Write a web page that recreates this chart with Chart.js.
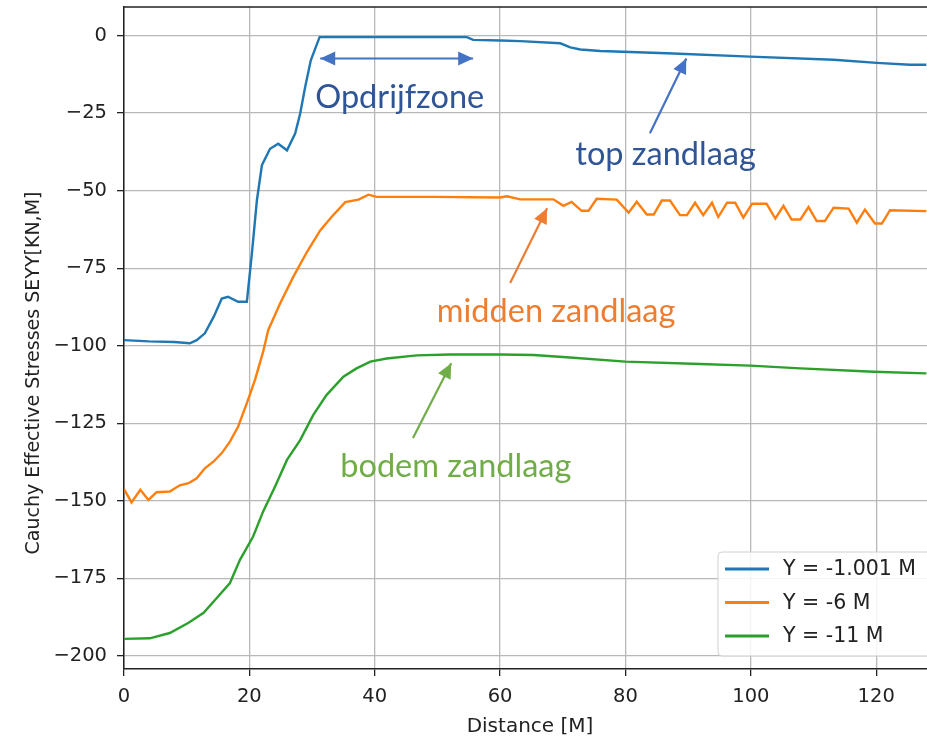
<!DOCTYPE html>
<html lang="nl">
<head>
    <meta charset="UTF-8">
    <title>Cauchy Effective Stresses SEYY</title>
    <script src="https://cdn.jsdelivr.net/npm/chart.js"></script>
    <style>
        html, body { margin: 0; padding: 0; background: #ffffff; }
        #stressChart { display: block; }
    </style>
</head>
<body>
    <canvas id="stressChart" width="927" height="738"></canvas>
<script>
    // distances [M] and SEYY values per layer
    const topX = [0, 4, 8, 10.5, 11.6, 12.9, 14.3, 15.6, 16.6, 18.2, 19.6, 20.4, 21.2, 22.0, 23.3, 24.6, 26.0, 27.3, 28.1, 28.9, 29.8, 31.2, 40, 50, 54.7, 55.7, 60, 63.2, 69.6, 71.2, 72.8, 76, 86.6, 99.9, 113.2, 120.1, 125.4, 128];
    const topY = [-98.2, -98.6, -98.8, -99.2, -98.2, -96, -90.7, -84.8, -84.2, -85.8, -85.8, -70.3, -53.1, -41.8, -36.5, -34.9, -37, -31.6, -25.2, -16.6, -8, -0.5, -0.5, -0.5, -0.5, -1.4, -1.6, -1.8, -2.5, -3.8, -4.5, -5.0, -5.7, -6.8, -7.8, -8.8, -9.4, -9.4];

    const midX = [0, 1.2, 2.6, 3.9, 5.2, 7.3, 8.9, 10.3, 11.6, 12.9, 14.3, 15.6, 16.9, 18.2, 19.6, 20.9, 22.2, 23.0, 24.9, 27.0, 29.2, 31.3, 33.1, 35.3, 37.4, 39.0, 40.3, 49.4, 60, 61.1, 63.2, 65.3, 68.5, 70.1, 71.4, 73.0, 74.1, 75.4, 78.6, 80.5, 81.8, 83.4, 84.5, 85.8, 87.1, 88.7, 89.8, 91.1, 92.4, 93.8, 94.8, 96.2, 97.5, 98.8, 100.2, 102.5, 103.9, 105.2, 106.5, 107.9, 109.2, 110.5, 111.8, 113.2, 115.6, 116.9, 118.2, 119.8, 120.9, 122.2, 128];
    const midY = [-146.2, -150.5, -146.4, -149.7, -147.2, -147, -145, -144.3, -142.7, -139.5, -137.3, -134.6, -130.9, -126.1, -118.5, -111, -101.9, -95, -86.4, -77.8, -69.7, -62.8, -58.5, -53.7, -52.9, -51.3, -52.0, -52, -52.2, -51.8, -52.8, -52.8, -52.8, -54.9, -53.6, -56.5, -56.5, -52.6, -52.9, -57.1, -53.6, -57.7, -57.7, -53.2, -53.2, -57.9, -57.9, -53.9, -57.9, -53.9, -58.5, -53.9, -53.9, -58.7, -54.2, -54.2, -59, -54.9, -59.3, -59.3, -55.3, -59.8, -59.8, -55.5, -55.8, -60.3, -56.1, -60.6, -60.6, -56.3, -56.6];

    const botX = [0, 4.1, 7.3, 10.3, 12.7, 14.8, 16.9, 18.5, 20.6, 22.2, 24.1, 26.0, 28.1, 30.2, 32.3, 35.0, 37.1, 39.3, 41.9, 46.7, 52, 60, 65.3, 70.6, 80, 91.9, 99.9, 107.9, 119.6, 128];
    const botY = [-194.5, -194.3, -192.6, -189.3, -186.1, -181.3, -176.5, -169, -161.5, -153.4, -145.4, -136.8, -130.4, -122.3, -115.9, -110, -107.3, -105.1, -104.1, -103.1, -102.8, -102.8, -103, -103.7, -105.1, -105.9, -106.4, -107.3, -108.4, -108.9];

    const seriesLabels = ["Y = -1.001 M", "Y = -6 M", "Y = -11 M"];
    const xTicks = [0, 20, 40, 60, 80, 100, 120];
    const yTicks = [0, -25, -50, -75, -100, -125, -150, -175, -200];

    const colors = ["#1f77b4", "#ff7f0e", "#2ca02c"];
    const tickFont = { family: "'DejaVu Sans'", size: 19.5 };

    function pts(xs, ys) {
        return xs.map((x, i) => ({ x: x, y: ys[i] }));
    }

    // text + arrows drawn on top of the plot, placed in data units
    const notes = [
        { text: "Opdrijfzone", x: 30.5, y: -23.5, color: "#2f5597" },
        { text: "top zandlaag", x: 72.0, y: -41.8, color: "#2f5597" },
        { text: "midden zandlaag", x: 49.9, y: -92.4, color: "#ed7d31" },
        { text: "bodem zandlaag", x: 34.5, y: -142.3, color: "#70ad47" }
    ];
    const arrows = [
        { from: [31.3, -7.4], to: [55.7, -7.4], color: "#4472c4", both: true },
        { from: [83.9, -31.5], to: [89.7, -7.4], color: "#4472c4" },
        { from: [61.6, -79.8], to: [67.5, -55.7], color: "#ed7d31" },
        { from: [46.1, -129.7], to: [52.2, -105.6], color: "#70ad47" }
    ];

    function arrowHead(ctx, x1, y1, x2, y2, len, half) {
        const a = Math.atan2(y2 - y1, x2 - x1);
        ctx.beginPath();
        ctx.moveTo(x2, y2);
        ctx.lineTo(x2 - len * Math.cos(a) + half * Math.sin(a), y2 - len * Math.sin(a) - half * Math.cos(a));
        ctx.lineTo(x2 - len * Math.cos(a) - half * Math.sin(a), y2 - len * Math.sin(a) + half * Math.cos(a));
        ctx.closePath();
        ctx.fill();
    }

    const overlay = {
        id: "overlay",
        afterDraw(chart) {
            const ctx = chart.ctx;
            const xs = chart.scales.x, ys = chart.scales.y;
            const area = chart.chartArea;
            ctx.save();

            // top spine
            ctx.strokeStyle = "#222";
            ctx.lineWidth = 1.5;
            ctx.beginPath();
            ctx.moveTo(area.left, area.top);
            ctx.lineTo(area.right + 2, area.top);
            ctx.stroke();

            // annotations
            ctx.font = "32.5px Lato";
            ctx.textBaseline = "alphabetic";
            ctx.textAlign = "left";
            notes.forEach(n => {
                ctx.fillStyle = n.color;
                ctx.fillText(n.text, xs.getPixelForValue(n.x), ys.getPixelForValue(n.y));
            });
            arrows.forEach(a => {
                const x1 = xs.getPixelForValue(a.from[0]), y1 = ys.getPixelForValue(a.from[1]);
                const x2 = xs.getPixelForValue(a.to[0]), y2 = ys.getPixelForValue(a.to[1]);
                ctx.strokeStyle = a.color;
                ctx.fillStyle = a.color;
                ctx.lineWidth = 2.2;
                ctx.beginPath();
                ctx.moveTo(x1, y1);
                ctx.lineTo(x2, y2);
                ctx.stroke();
                arrowHead(ctx, x1, y1, x2, y2, 15, 7);
                if (a.both) arrowHead(ctx, x2, y2, x1, y1, 15, 7);
            });

            // legend box, lower right
            const bx = area.right - 209, by = area.bottom - 117;
            ctx.fillStyle = "rgba(255,255,255,0.85)";
            ctx.strokeStyle = "#d0d0d0";
            ctx.lineWidth = 1;
            ctx.beginPath();
            ctx.roundRect(bx, by, 230, 104, 4);
            ctx.fill();
            ctx.stroke();
            ctx.font = "20.5px 'DejaVu Sans'";
            ctx.textBaseline = "middle";
            chart.data.datasets.forEach((ds, i) => {
                const ly = by + 17 + i * 33.5;
                ctx.strokeStyle = ds.borderColor;
                ctx.lineWidth = 2.8;
                ctx.beginPath();
                ctx.moveTo(bx + 7, ly);
                ctx.lineTo(bx + 51, ly);
                ctx.stroke();
                ctx.fillStyle = "#222";
                ctx.fillText(ds.label, bx + 65, ly + 1);
            });

            // axis titles
            ctx.fillStyle = "#222";
            ctx.textAlign = "center";
            ctx.font = "20px 'DejaVu Sans'";
            ctx.fillText("Distance [M]", 530, 727);
            ctx.font = "19px 'DejaVu Sans'";
            ctx.translate(34, 373);
            ctx.rotate(-Math.PI / 2);
            ctx.fillText("Cauchy Effective Stresses SEYY[KN,M]", 0, 0);
            ctx.restore();
        }
    };

    const ctx = document.getElementById("stressChart").getContext("2d");
    new Chart(ctx, {
        type: "line",
        data: {
            datasets: [
                { label: seriesLabels[0], data: pts(topX, topY), borderColor: colors[0] },
                { label: seriesLabels[1], data: pts(midX, midY), borderColor: colors[1] },
                { label: seriesLabels[2], data: pts(botX, botY), borderColor: colors[2] }
            ]
        },
        options: {
            responsive: false,
            animation: false,
            layout: { padding: { top: 7, left: 0, right: 0, bottom: 0 } },
            elements: {
                point: { radius: 0 },
                line: { borderWidth: 2.4, tension: 0 }
            },
            plugins: {
                legend: { display: false },
                tooltip: { enabled: false }
            },
            scales: {
                x: {
                    type: "linear",
                    min: 0,
                    max: 128.1,
                    afterBuildTicks: s => { s.ticks = xTicks.map(v => ({ value: v })); },
                    afterFit: s => { s.height = 69; s.paddingLeft = 0; s.paddingRight = 0; },
                    grid: { color: "#b8b8b8", lineWidth: 1.3, tickLength: 7, tickColor: "#222", tickWidth: 1.3 },
                    border: { color: "#222", width: 1.5 },
                    ticks: { font: tickFont, color: "#222", padding: 9, maxRotation: 0 }
                },
                y: {
                    min: -204.2,
                    max: 9.2,
                    afterBuildTicks: s => { s.ticks = yTicks.map(v => ({ value: v })); },
                    afterFit: s => { s.width = 124; s.paddingTop = 0; s.paddingBottom = 0; },
                    grid: { color: "#b8b8b8", lineWidth: 1.3, tickLength: 7, tickColor: "#222", tickWidth: 1.3 },
                    border: { color: "#222", width: 1.5 },
                    ticks: {
                        font: tickFont,
                        color: "#222",
                        padding: 10,
                        callback: v => v < 0 ? "\u2212" + Math.abs(v) : String(v)
                    }
                }
            }
        },
        plugins: [overlay]
    });
</script>
</body>
</html>
